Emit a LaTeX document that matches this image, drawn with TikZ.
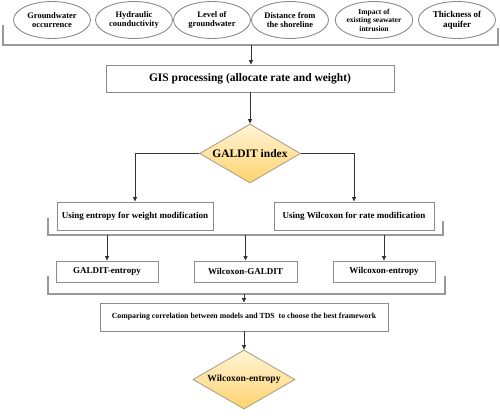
\documentclass[tikz,border=0pt]{standalone}
\usepackage{fontspec}
\setmainfont{Liberation Serif}
\usetikzlibrary{shapes.geometric,arrows.meta}
\definecolor{boxline}{HTML}{8C8C8C}
\definecolor{brline}{HTML}{9A9A9A}
\definecolor{arr}{HTML}{333333}
\definecolor{dtop}{HTML}{FFF4D6}
\definecolor{dbot}{HTML}{FFD36E}
\definecolor{dline}{HTML}{A89A80}
\tikzset{
  oval/.style={ellipse, draw=boxline, line width=0.9pt, fill=white, minimum width=77pt, minimum height=37pt, inner sep=0pt, align=center, font=\bfseries\fontsize{8.5}{9.5}\selectfont},
  pbox/.style={rectangle, draw=boxline, line width=0.9pt, fill=white, inner sep=0pt, align=center, font=\bfseries\fontsize{9}{10}\selectfont},
  dec/.style={diamond, draw=dline, line width=0.8pt, top color=dtop, bottom color=dbot, inner sep=0pt, aspect=1.7, minimum width=101pt, minimum height=59pt, font=\bfseries\fontsize{11.5}{12}\selectfont},
  bracket/.style={draw=brline, line width=1.1pt},
  flow/.style={draw=arr, line width=0.8pt, -{Triangle[length=4.5pt,width=4pt]}}
}
\begin{document}
\begin{tikzpicture}[x=1pt,y=-1pt]
\useasboundingbox (0,0) rectangle (500,415);
% top ellipses
\node[oval] (e1) at (52,20) {Groundwater\\occurrence};
\node[oval] (e2) at (134,20) {Hydraulic\\counductivity};
\node[oval] (e3) at (212,20) {Level of\\groundwater};
\node[oval] (e4) at (290,20) {Distance from\\the shoreline};
\node[oval, font=\bfseries\fontsize{7.5}{8.5}\selectfont] (e5) at (374,20) {Impact of\\existing seawater\\intrusion};
\node[oval, font=\bfseries\fontsize{9}{10}\selectfont] (e6) at (457,20) {Thickness of\\aquifer};
% top bracket
\draw[bracket] (3,25) -- (3,45) -- (498,45) -- (498,28);
\coordinate (topmid) at (251,45);
% GIS box
\node[pbox, minimum width=288pt, minimum height=27pt, font=\bfseries\fontsize{11.5}{12}\selectfont] (gis) at (250,78.5) {GIS processing (allocate rate and weight)};
\draw[flow] (topmid) -- (topmid |- gis.north);
% GALDIT diamond
\node[dec] (gal) at (250,153.5) {GALDIT index};
\draw[flow] (gis.south) -- (gal.north);
% modification boxes
\node[pbox, minimum width=156pt, minimum height=28pt] (ent) at (135,216) {Using entropy for weight modification};
\node[pbox, minimum width=160pt, minimum height=28pt] (wil) at (354,216) {Using Wilcoxon for rate modification};
\draw[flow] (gal.west) -| (ent.north);
\draw[flow] (gal.east) -| (wil.north);
% middle bracket
\draw[bracket] (48,218) -- (48,235) -- (443,235) -- (443,221);
% model boxes
\node[pbox, minimum width=102pt, minimum height=21pt] (m1) at (107,271.5) {GALDIT-entropy};
\node[pbox, minimum width=103pt, minimum height=21pt] (m2) at (245.5,271.5) {Wilcoxon-GALDIT};
\node[pbox, minimum width=102pt, minimum height=21pt] (m3) at (384,271.5) {Wilcoxon-entropy};
\coordinate (b1) at (107,235);
\coordinate (b2) at (245.5,235);
\coordinate (b3) at (384,235);
\draw[flow] (b1) -- (m1.north);
\draw[flow] (b2) -- (m2.north);
\draw[flow] (b3) -- (m3.north);
% lower bracket
\draw[bracket] (48,276) -- (48,294) -- (445,294) -- (445,276);
\coordinate (lowmid) at (244,294);
% comparing box
\node[pbox, minimum width=288pt, minimum height=28pt, font=\bfseries\fontsize{7.8}{9}\selectfont] (cmp) at (244,317) {Comparing correlation between models and TDS ~to choose the best framework};
\draw[flow] (lowmid) -- (cmp.north);
% final diamond
\node[dec, minimum width=102pt, font=\bfseries\fontsize{9.5}{10}\selectfont] (fin) at (244,379.5) {Wilcoxon-entropy};
\draw[flow] (cmp.south) -- (fin.north);
\end{tikzpicture}
\end{document}
